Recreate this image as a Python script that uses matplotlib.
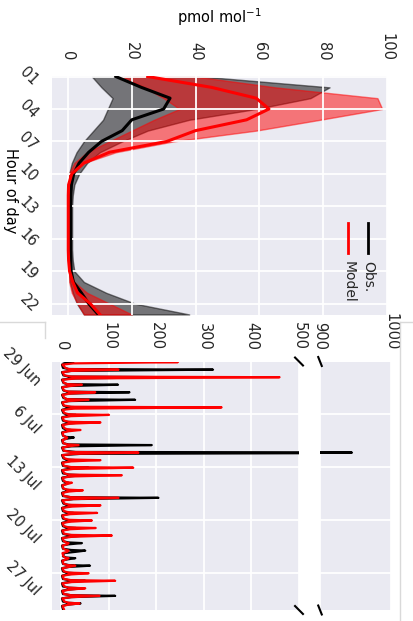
import numpy as np
import matplotlib
matplotlib.use("Agg")
import matplotlib.pyplot as plt
import matplotlib.dates as mdates
from matplotlib.lines import Line2D
from matplotlib.ticker import FuncFormatter
from matplotlib.transforms import ScaledTranslation

# ---- diurnal profile (top panel), hours 01..23 ----
hours = list(range(1, 24))
obs_med = [15, 23, 32, 30, 20, 17, 10.5, 6.5, 3.5, 1.8, 1.1, 0.9, 0.8, 0.8, 0.8, 0.8, 0.8, 0.9, 1.0, 1.7, 4.2, 6.5, 9.5]
obs_lo = [7.5, 10.5, 14, 12.5, 11, 8, 5, 2.7, 1.2, 0.4, 0.2, 0.2, 0.2, 0.2, 0.2, 0.2, 0.2, 0.2, 0.3, 0.6, 1.5, 2.8, 5]
obs_hi = [42, 82, 76, 59, 38, 25, 17, 10, 6, 3.5, 2, 1.5, 1.3, 1.3, 1.3, 1.3, 1.3, 1.5, 2, 5, 12, 21, 38]
mod_med = [25, 45, 59, 63, 56, 40, 31, 13, 5, 1.2, 0.2, 0.1, 0.1, 0.1, 0.1, 0.1, 0.1, 0.2, 0.5, 1.5, 3, 7, 10]
mod_lo = [17, 24, 30, 35, 27, 20, 13, 6, 2, 0.3, 0, 0, 0, 0, 0, 0, 0, 0, 0.1, 0.4, 1.2, 3, 5]
mod_hi = [40, 65, 97, 98.5, 79, 59, 33, 15, 5, 1.2, 0.4, 0.3, 0.3, 0.3, 0.3, 0.3, 0.3, 0.4, 0.8, 2, 6, 13, 20]

# ---- time series (bottom panel) ----
start = np.datetime64("2015-06-29T00:00")
sample_hours = [0, 2, 6, 10, 20]   # samples taken each day
# one row per day, 29 Jun .. 31 Jul, values at sample_hours
obs_days = [
    [5, 25, 10, 1, 3], [15, 319, 20, 1, 4], [15, 230, 20, 1, 4], [12, 119, 15, 1, 4],
    [12, 143, 15, 1, 4], [12, 155, 15, 1, 4], [10, 40, 12, 1, 4], [10, 30, 12, 1, 3],
    [10, 40, 12, 1, 3], [8, 20, 10, 1, 3], [10, 26, 10, 1, 3], [15, 190, 20, 1, 4],
    [30, 945, 40, 1, 4], [10, 30, 12, 1, 3], [15, 57, 15, 1, 3], [15, 43, 15, 1, 3],
    [8, 15, 10, 1, 3], [10, 20, 10, 1, 3], [20, 204, 25, 1, 4], [10, 30, 12, 1, 3],
    [10, 25, 12, 1, 3], [10, 25, 12, 1, 3], [10, 30, 12, 1, 3], [12, 50, 15, 1, 3],
    [15, 43, 15, 1, 3], [20, 50, 29, 5, 3], [10, 29, 12, 1, 3], [15, 60, 15, 1, 3],
    [10, 30, 12, 1, 3], [15, 50, 15, 1, 3], [15, 45, 15, 1, 3], [20, 113, 20, 1, 3],
    [12, 40, 12, 1, 3],
]
mod_days = [
    [90, 245, 25, 2, 8], [15, 120, 20, 2, 6], [20, 459, 30, 2, 5], [12, 43, 18, 2, 5],
    [15, 71, 20, 2, 6], [12, 57, 15, 2, 5], [20, 337, 25, 2, 6], [15, 100, 20, 2, 5],
    [15, 82, 18, 2, 6], [12, 40, 15, 2, 4], [8, 12, 10, 2, 4], [12, 36, 15, 2, 5],
    [20, 162, 25, 2, 6], [15, 82, 20, 2, 5], [20, 151, 25, 2, 6], [15, 127, 20, 2, 5],
    [10, 22, 12, 2, 4], [12, 45, 15, 2, 5], [20, 120, 25, 2, 6], [15, 82, 20, 2, 5],
    [15, 75, 18, 2, 5], [15, 64, 18, 2, 5], [15, 72, 18, 2, 5], [20, 106, 22, 2, 5],
    [10, 15, 12, 2, 4], [10, 15, 12, 2, 4], [8, 15, 10, 2, 4], [12, 29, 15, 2, 5],
    [15, 57, 18, 2, 5], [20, 113, 22, 2, 6], [15, 50, 18, 2, 5], [20, 80, 22, 2, 6],
    [15, 38, 15, 2, 5],
]

times = np.array([start + np.timedelta64(24 * d + h, "h")
                  for d in range(len(obs_days)) for h in sample_hours])
obs_ts = np.array(obs_days, dtype=float).ravel()
mod_ts = np.array(mod_days, dtype=float).ravel()

plt.rcParams.update({
    "axes.facecolor": "#EAEAF2",
    "axes.edgecolor": "white",
    "axes.grid": True,
    "grid.color": "white",
    "grid.linewidth": 1.3,
    "font.size": 10.5,
    "xtick.major.size": 0,
    "ytick.major.size": 0,
    "text.color": "#262626",
    "xtick.color": "#262626",
    "ytick.color": "#262626",
})

W, H = 414, 621
fig = plt.figure(figsize=(W / 100, H / 100), dpi=100)


def box(x0, y0, x1, y1):
    return [x0 / W, 1 - y1 / H, (x1 - x0) / W, (y1 - y0) / H]


# ---- top panel ----
ax1 = fig.add_axes(box(52, 76, 387, 315))
for s in ax1.spines.values():
    s.set_visible(False)
ax1.fill_betweenx(hours, obs_lo, obs_hi, facecolor="k", edgecolor="k", alpha=0.5, lw=1)
ax1.fill_betweenx(hours, mod_lo, mod_hi, facecolor="r", edgecolor="r", alpha=0.5, lw=1)
ax1.plot(obs_med, hours, color="k", lw=2.2)
ax1.plot(mod_med, hours, color="r", lw=2.2)
ax1.set_xlim(-5, 100)
ax1.set_ylim(23.05, 0.95)
ax1.set_xticks([0, 20, 40, 60, 80, 100])
ax1.set_yticks(hours[::3])
ax1.set_yticklabels([f"{h:02d}" for h in hours[::3]])
ax1.xaxis.tick_top()
ax1.xaxis.set_label_position("top")
ax1.tick_params(axis="x", labelrotation=-90, pad=11)
ax1.tick_params(axis="y", labelrotation=-45, pad=8.5)
for lab in ax1.get_yticklabels():
    lab.set_ha("right")
    lab.set_va("center")
ax1.set_xlabel("pmol mol$^{-1}$", labelpad=7)
ax1.set_ylabel("Hour of day", rotation=-90, va="center")
ax1.yaxis.set_label_coords(-0.125, 0.52)

# legend drawn by hand so it can be rotated like the rest
for xa, col, lab in [(0.943, "k", "Obs."), (0.884, "r", "Model")]:
    ax1.add_line(Line2D([xa, xa], [0.259, 0.385], color=col, lw=2,
                        transform=ax1.transAxes))
    ax1.text(xa, 0.225, lab, rotation=-90, ha="center", va="top",
             fontsize=10, transform=ax1.transAxes)

# ---- bottom panel, broken value axis ----
ax2 = fig.add_axes(box(52, 361.5, 299, 610))
ax3 = fig.add_axes(box(320, 361.5, 391, 610), sharey=ax2)
for ax in (ax2, ax3):
    for s in ax.spines.values():
        s.set_visible(False)
    ax.plot(obs_ts, times, color="k", lw=1.6)
    ax.plot(mod_ts, times, color="r", lw=1.6)
    ax.xaxis.tick_top()
    ax.tick_params(axis="x", labelrotation=-90, pad=8)

ax2.set_xlim(-20, 500)
ax2.set_xticks([0, 100, 200, 300, 400, 500])
ax3.set_xlim(900, 1000)
ax3.set_xticks([900, 1000])
ax2.set_ylim(start + np.timedelta64(32 * 24 + 23, "h"), start)
ax2.yaxis.set_major_locator(mdates.WeekdayLocator(byweekday=mdates.MO))
ax2.yaxis.set_major_formatter(FuncFormatter(
    lambda v, pos: f"{mdates.num2date(v).day} {mdates.num2date(v):%b}"))
ax2.tick_params(axis="y", labelrotation=-45, pad=6.5)
ax3.tick_params(axis="y", labelleft=False)
fig.canvas.draw()
shift = ScaledTranslation(0, -0.06, fig.dpi_scale_trans)
for lab in ax2.get_yticklabels():
    lab.set_ha("right")
    lab.set_va("center")
    lab.set_transform(lab.get_transform() + shift)

# break marks
kw = dict(color="k", lw=1.5, clip_on=False)
for yy in (1, 0):
    ax2.plot([1 - 0.016, 1 + 0.016], [yy + 0.016, yy - 0.016], transform=ax2.transAxes, **kw)
    ax3.plot([-0.025, 0.025], [yy + 0.018, yy - 0.018], transform=ax3.transAxes, **kw)

# faint frame remnants seen in the reference
fr = dict(color="#d9d9d9", lw=1, transform=fig.transFigure)
fig.add_artist(Line2D([0, 45 / W], [1 - 322 / H] * 2, **fr))
fig.add_artist(Line2D([45 / W] * 2, [1 - 322 / H, 1 - 338 / H], **fr))
fig.add_artist(Line2D([400 / W, 1], [1 - 322 / H] * 2, **fr))
fig.add_artist(Line2D([400 / W] * 2, [1 - 322 / H, 0], **fr))

fig.savefig("out.png", dpi=100)
